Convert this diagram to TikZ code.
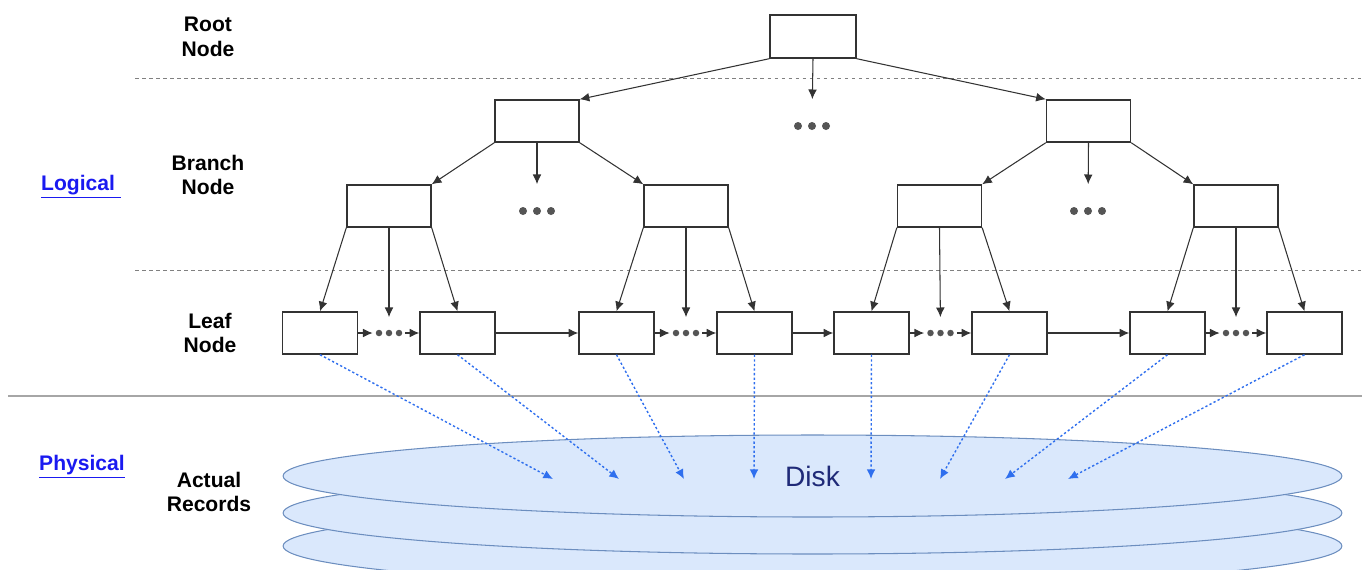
\documentclass[tikz,border=0pt]{standalone}
\usepackage{fontspec}
\setmainfont{Liberation Sans}
\usetikzlibrary{arrows.meta,shapes.geometric}
\definecolor{boxline}{HTML}{333333}
\definecolor{dotgray}{HTML}{555555}
\definecolor{linkblue}{HTML}{1A1AF0}
\definecolor{diskfill}{HTML}{DAE8FC}
\definecolor{diskline}{HTML}{6C8EBF}
\definecolor{diskarrow}{HTML}{2F6FEE}
\definecolor{disktext}{HTML}{1F2A78}
\begin{document}
\begin{tikzpicture}[x=0.02cm,y=-0.02cm,
  tree node/.style={draw=boxline, line width=0.8pt, minimum width=1.68cm, minimum height=0.84cm, inner sep=0},
  leaf node/.style={tree node, minimum width=1.5cm},
  level label/.style={font=\fontsize{12}{14}\selectfont\bfseries, align=center},
  side label/.style={font=\fontsize{12}{14}\selectfont\bfseries, text=linkblue},
  big dots/.style={minimum width=0.8cm, minimum height=0.18cm, inner sep=0,
    path picture={\foreach \dx in {-0.28,0,0.28} \fill[dotgray] ([xshift=\dx cm]path picture bounding box.center) circle (0.08cm);}},
  small dots/.style={minimum width=0.64cm, minimum height=0.14cm, inner sep=0,
    path picture={\foreach \dx in {-0.2,0,0.2} \fill[dotgray] ([xshift=\dx cm]path picture bounding box.center) circle (0.065cm);}},
  tree edge/.style={-{Latex[length=5.5pt,width=5pt]}, draw=boxline, line width=0.6pt},
  disk edge/.style={-{Latex[length=5.5pt,width=5pt]}, draw=diskarrow, line width=0.8pt, dash pattern=on 1.3pt off 1.3pt},
  disk layer/.style={ellipse, draw=diskline, fill=diskfill, line width=0.6pt, minimum width=21.18cm, minimum height=1.64cm, inner sep=0}]
  \useasboundingbox (0,0) rectangle (1370,569);
  % separators
  \draw[gray, line width=0.5pt, dash pattern=on 2pt off 2pt] (135,78) -- (1362,78);
  \draw[gray, line width=0.5pt, dash pattern=on 2pt off 2pt] (135,270) -- (1362,270);
  \draw[gray!70, line width=0.9pt] (8,396) -- (1362,396);
  % labels
  \node[level label] (lroot) at (208,37) {Root\\Node};
  \node[level label] (lbranch) at (208,175) {Branch\\Node};
  \node[level label] (lleaf) at (210,333) {Leaf\\Node};
  \node[level label] (lrec) at (209,492) {Actual\\Records};
  \node[side label] (logical) at (81,187) {\underline{Logical\ }};
  \node[side label] (physical) at (82,467) {\underline{Physical}};
  % disk
  \node[disk layer] (disk3) at (812.5,546) {};
  \node[disk layer] (disk2) at (812.5,513) {};
  \node[disk layer, font=\fontsize{16}{18}\selectfont, text=disktext] (disk) at (812.5,476) {Disk};
  % tree
  \node[tree node, minimum width=1.72cm, minimum height=0.86cm] (root) at (813,36.5) {};
  \node[tree node] (brL) at (537,121) {};
  \node[tree node] (brR) at (1088.5,121) {};
  \node[tree node] (brLL) at (389,206) {};
  \node[tree node] (brLR) at (686,206) {};
  \node[tree node] (brRL) at (939.5,206) {};
  \node[tree node] (brRR) at (1236,206) {};
  \node[big dots] (d0) at (812,126) {};
  \node[big dots] (d1) at (537,211) {};
  \node[big dots] (d2) at (1088,211) {};
  \node[leaf node] (leaf1) at (320,333) {};
  \node[leaf node] (leaf2) at (457.5,333) {};
  \node[leaf node] (leaf3) at (616.5,333) {};
  \node[leaf node] (leaf4) at (754.5,333) {};
  \node[leaf node] (leaf5) at (871.5,333) {};
  \node[leaf node] (leaf6) at (1009.5,333) {};
  \node[leaf node] (leaf7) at (1167.5,333) {};
  \node[leaf node] (leaf8) at (1304.5,333) {};
  \node[small dots] (g1) at (389,333) {};
  \node[small dots] (g2) at (686,333) {};
  \node[small dots] (g3) at (940.5,333) {};
  \node[small dots] (g4) at (1236,333) {};
  % targets on the disk
  \coordinate (t1) at (553,479);
  \coordinate (t2) at (619,479);
  \coordinate (t3) at (684,479);
  \coordinate (t4) at (754,479);
  \coordinate (t5) at (871,479);
  \coordinate (t6) at (940,479);
  \coordinate (t7) at (1005,479);
  \coordinate (t8) at (1068,479);
  \path[every edge/.append style={tree edge}]
    (root.south west) edge (brL.north east)
    (root.south east) edge (brR.north west)
    (root.south) edge[shorten >=0.44cm] (d0.north)
    (brL.south west) edge (brLL.north east)
    (brL.south east) edge (brLR.north west)
    (brL.south) edge[shorten >=0.44cm] (d1.north)
    (brR.south west) edge (brRL.north east)
    (brR.south east) edge (brRR.north west)
    (brR.south) edge[shorten >=0.44cm] (d2.north)
    (brLL.south west) edge (leaf1.north)
    (brLL.south east) edge (leaf2.north)
    (brLL.south) edge[shorten >=0.24cm] (g1.north)
    (brLR.south west) edge (leaf3.north)
    (brLR.south east) edge (leaf4.north)
    (brLR.south) edge[shorten >=0.24cm] (g2.north)
    (brRL.south west) edge (leaf5.north)
    (brRL.south east) edge (leaf6.north)
    (brRL.south) edge[shorten >=0.24cm] (g3.north)
    (brRR.south west) edge (leaf7.north)
    (brRR.south east) edge (leaf8.north)
    (brRR.south) edge[shorten >=0.24cm] (g4.north)
    (leaf1) edge (g1) (g1) edge (leaf2)
    (leaf2) edge (leaf3)
    (leaf3) edge (g2) (g2) edge (leaf4)
    (leaf4) edge (leaf5)
    (leaf5) edge (g3) (g3) edge (leaf6)
    (leaf6) edge (leaf7)
    (leaf7) edge (g4) (g4) edge (leaf8);
  \path[every edge/.append style={disk edge}]
    (leaf1.south) edge (t1)
    (leaf2.south) edge (t2)
    (leaf3.south) edge (t3)
    (leaf4.south) edge (t4)
    (leaf5.south) edge (t5)
    (leaf6.south) edge (t6)
    (leaf7.south) edge (t7)
    (leaf8.south) edge (t8);
\end{tikzpicture}
\end{document}
